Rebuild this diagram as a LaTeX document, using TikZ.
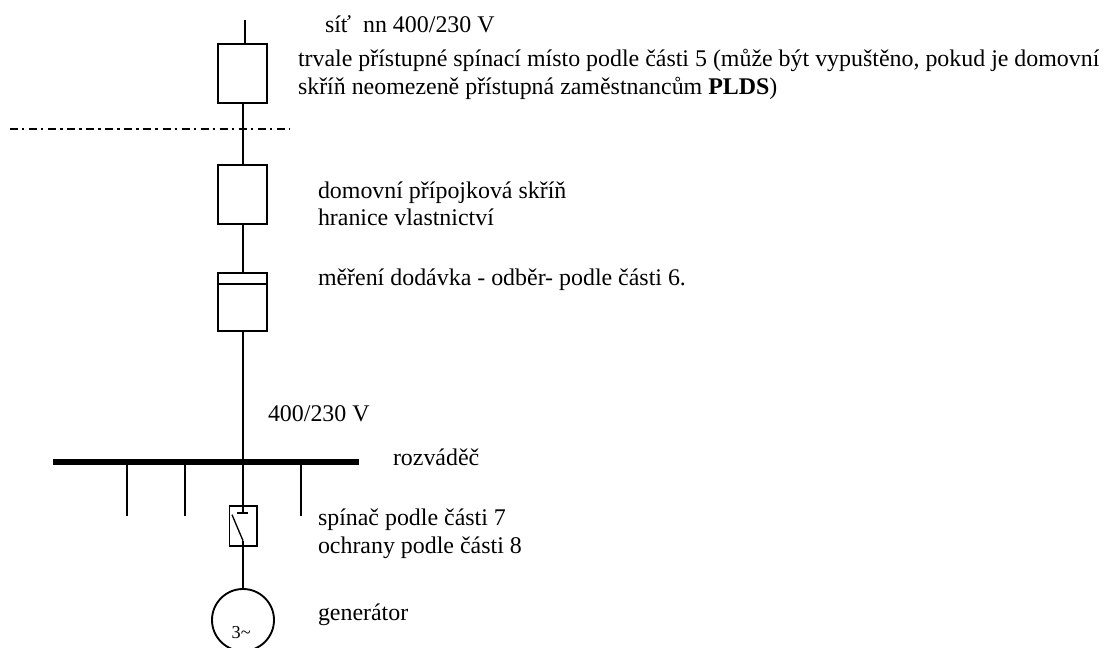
\documentclass[tikz,border=0pt]{standalone}
\usepackage{fontspec}
\setmainfont{Liberation Serif}
\tikzset{
  px/.style={x=0.75pt,y=-0.75pt},
  lbl/.style={anchor=base west,inner sep=0pt,outer sep=0pt,font=\fontsize{17.93}{21}\selectfont},
  boxthick/.style={draw=black,line width=1.7pt,minimum width=37pt,minimum height=44pt,inner sep=0pt,outer sep=0pt},
  wire/.style={draw=black,line width=1.25pt},
}
\begin{document}
\begin{tikzpicture}[px]
\useasboundingbox (0,0) rectangle (1106,648);
\clip (0,0) rectangle (1106,648);
% apparatus
\node[boxthick] (b1) at (242.6,73.5) {};
\node[boxthick] (b2) at (242.6,194.5) {};
\node[boxthick] (b3) at (242.6,302) {};
\draw[line width=1.3pt] (b3.west |- 0,284) coordinate (d1) -- (b3.east |- 0,284) coordinate (d2);
\coordinate (top) at (245,20);
\coordinate (b1t) at (245,44);
\draw[wire] (top) -- (b1t);
\coordinate (b1b) at (243,103);
\coordinate (b2t) at (243,165);
\draw[wire] (b1b) -- (b2t);
\coordinate (b2b) at (243,224);
\coordinate (b3t) at (243,272);
\draw[wire] (b2b) -- (b3t);
\coordinate (b3b) at (243,331);
% bus
\coordinate (busl) at (53,462);
\coordinate (busr) at (359,462);
\draw[line width=4.5pt] (busl) -- (busr);
\coordinate (busm) at (243,462);
\draw[wire] (b3b) -- (busm);
\foreach \n/\x in {a/127,b/185,c/301}{
  \coordinate (t\n) at (\x,462);
  \coordinate (e\n) at (\x,516);
  \draw[wire] (t\n) -- (e\n);
}
% switch
\node[draw=black,line width=1.25pt,minimum width=20.5pt,minimum height=30pt,inner sep=0pt,outer sep=0pt] (sw) at (243,526.3) {};
\coordinate (swc) at (243,513.3);
\draw[wire] (busm) -- (swc);
\coordinate (c1) at (237.3,513.3);
\coordinate (c2) at (247.5,513.3);
\draw[wire] (c1) -- (c2);
\coordinate (k1) at (232,514.7);
\coordinate (k2) at (243,540.7);
\draw[line width=1pt] (k1) -- (k2);
% generator
\node[circle,draw=black,line width=1.4pt,minimum size=46.5pt,inner sep=0pt,outer sep=0pt] (gen) at (243,620) {};
\draw[wire] (k2) -- (gen.north);
\node[lbl,font=\fontsize{13.7}{15}\selectfont] (g3) at (231.7,638.5) {3\textasciitilde};
% dash-dot
\coordinate (dl) at (10,129);
\coordinate (dr) at (289,129);
\draw[line width=1.3pt,dash pattern=on 6pt off 3pt on 1.8pt off 3.5pt] (dl) -- (dr);
% labels
\node[lbl] (t1) at (325,33) {síť\ \ nn 400/230 V};
\node[lbl,anchor=north west,align=left] (t2) at (298,49) {trvale přístupné spínací místo podle části 5 (může být vypuštěno, pokud je domovní\\skříň neomezeně přístupná zaměstnancům \textbf{PLDS})};
\node[lbl] (t4) at (318,199) {domovní přípojková skříň};
\node[lbl] (t5) at (318,226) {hranice vlastnictví};
\node[lbl] (t6) at (318,286) {měření dodávka - odběr- podle části 6.};
\node[lbl] (t7) at (268,421) {400/230 V};
\node[lbl] (t8) at (393,465) {rozváděč};
\node[lbl] (t9) at (318,525.7) {spínač podle části 7};
\node[lbl] (t10) at (318,553) {ochrany podle části 8};
\node[lbl] (t11) at (318,620) {generátor};
\end{tikzpicture}
\end{document}
